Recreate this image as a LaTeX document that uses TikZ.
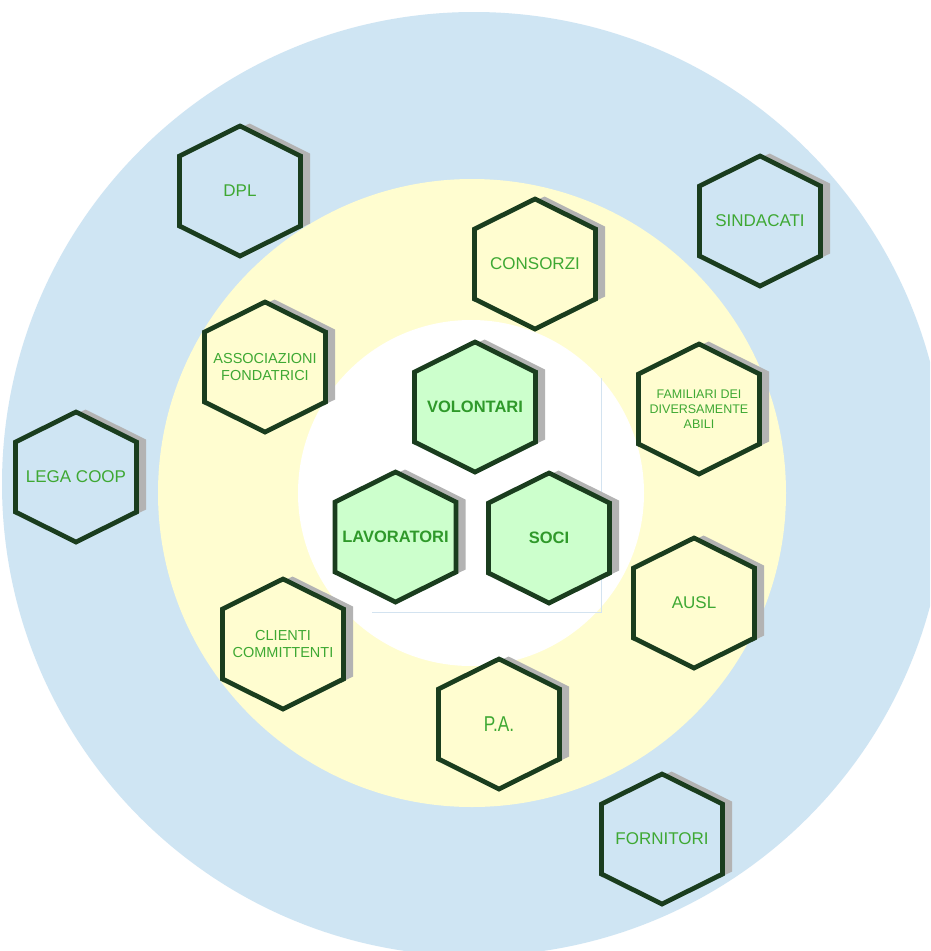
\documentclass[tikz,border=0pt]{standalone}
\usepackage{fontspec}
\setmainfont{Liberation Sans}
\definecolor{ringblue}{HTML}{CFE5F3}
\definecolor{ringyellow}{HTML}{FFFDD0}
\definecolor{cellgreen}{HTML}{CCFFCC}
\definecolor{edgegreen}{HTML}{1A3D1E}
\definecolor{txtgreen}{HTML}{3EA833}
\definecolor{txtbold}{HTML}{2F992A}
\definecolor{shadowgray}{HTML}{B3B3B3}
\definecolor{faintline}{HTML}{D3E3F0}
\tikzset{
  lblbig/.style={text=txtgreen,align=center,font=\fontsize{17}{19}\selectfont},
  lblmid/.style={text=txtgreen,align=center,font=\fontsize{14.5}{16.5}\selectfont},
  lblsmall/.style={text=txtgreen,align=center,font=\fontsize{12.5}{15}\selectfont},
  lblbold/.style={text=txtbold,align=center,font=\fontsize{16.5}{19}\selectfont\bfseries},
  lblnarrow/.style={text=txtgreen,align=center},
  hexedge/.style={draw=edgegreen,line width=4.7pt,line join=miter},
}
\newcommand\hexcell[6]{%
  \fill[shadowgray,shift={(#2+9.5,#3-2.5)}]
    (0,-65) -- (60.5,-35) -- (60.5,35) -- (0,65) -- (-60.5,35) -- (-60.5,-35) -- cycle;
  \filldraw[fill=#4,hexedge,shift={(#2,#3)}]
    (0,-65) -- (60.5,-35) -- (60.5,35) -- (0,65) -- (-60.5,35) -- (-60.5,-35) -- cycle;
  \node[#5] (#1) at (#2,#3) {#6};
}
\begin{document}
\begin{tikzpicture}[x=1pt,y=-1pt]
  \clip (0,0) rectangle (930,951);
  \fill[white] (0,0) rectangle (930,951);
  % rings
  \fill[ringblue] (474,484) circle[radius=472pt];
  \fill[ringyellow] (472,493) circle[radius=314pt];
  \fill[white] (471,493) circle[radius=173pt];
  % faint frame lines
  \draw[faintline,line width=0.9pt] (601,378) -- (601,612) -- (372,612);
  % hexagons
  \hexcell{dpl}{240}{191}{ringblue}{lblbig}{DPL}
  \hexcell{sind}{760}{221}{ringblue}{lblbig}{SINDACATI}
  \hexcell{cons}{535}{264}{ringyellow}{lblbig}{CONSORZI}
  \hexcell{assoc}{265}{367}{ringyellow}{lblmid}{ASSOCIAZIONI\\FONDATRICI}
  \hexcell{vol}{475}{407}{cellgreen}{lblbold}{VOLONTARI}
  \hexcell{fam}{699}{409}{ringyellow}{lblsmall}{FAMILIARI DEI\\DIVERSAMENTE\\ABILI}
  \hexcell{lega}{76}{477}{ringblue}{lblbig}{LEGA COOP}
  \hexcell{lav}{395.5}{537}{cellgreen}{lblbold}{LAVORATORI}
  \hexcell{soci}{549}{538}{cellgreen}{lblbold}{SOCI}
  \hexcell{ausl}{694}{603}{ringyellow}{lblbig}{AUSL}
  \hexcell{clienti}{283}{644}{ringyellow}{lblmid}{CLIENTI\\COMMITTENTI}
  \hexcell{pa}{499}{724}{ringyellow}{lblnarrow}{\scalebox{0.8}[1]{\fontsize{21.5}{24}\selectfont P.A.}}
  \hexcell{forn}{662}{839}{ringblue}{lblbig}{FORNITORI}
\end{tikzpicture}
\end{document}
